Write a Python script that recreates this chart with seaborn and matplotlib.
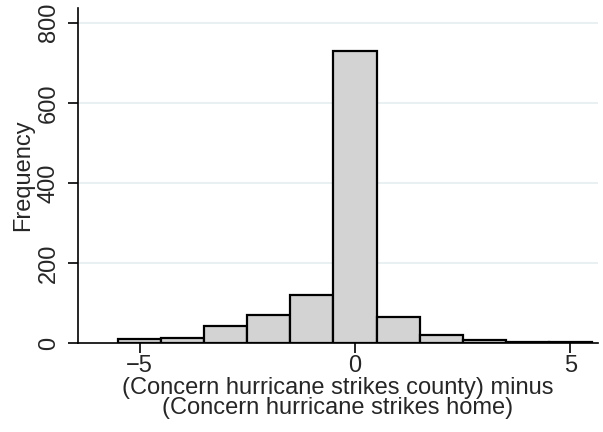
import numpy as np
import pandas as pd
import matplotlib
matplotlib.use('Agg')
import matplotlib.pyplot as plt
import seaborn as sns

# difference score (county minus home) and frequency per bin
diff_values = [-5, -4, -3, -2, -1, 0, 1, 2, 3, 4, 5]
frequency = [9, 13, 42, 70, 120, 730, 64, 19, 8, 3, 2]
x_ticks = [-5, 0, 5]
y_ticks = [0, 200, 400, 600, 800]

df = pd.DataFrame({'diff': diff_values, 'freq': frequency})

sns.set_style('white')
plt.rcParams['font.family'] = ['Liberation Sans', 'DejaVu Sans']

fig = plt.figure(figsize=(6.03, 4.32), dpi=100)
ax = fig.add_axes([78 / 603, 89 / 432, (598 - 78) / 603, (343 - 8) / 432])

for yv in y_ticks[1:]:
    ax.axhline(yv, color='#e6eff1', lw=1.3, zorder=0)

sns.histplot(data=df, x='diff', weights='freq', discrete=True,
             color='#d3d3d3', edgecolor='black', linewidth=1.6, alpha=1, ax=ax, zorder=2)

ax.set_xlim(-6.43, 5.64)
ax.set_ylim(0, 837)
ax.set_xticks(x_ticks)
ax.set_xticklabels(['\u22125', '0', '5'])
ax.set_yticks(y_ticks)
ax.set_yticklabels([str(v) for v in y_ticks], rotation=90, va='center')
ax.tick_params(axis='both', direction='out', length=7, width=1.2, color='black',
               labelsize=17, left=True, bottom=True)
ax.tick_params(axis='x', pad=1.5)
ax.tick_params(axis='y', pad=6)

for side in ['top', 'right']:
    ax.spines[side].set_visible(False)
for side in ['left', 'bottom']:
    ax.spines[side].set_color('black')
    ax.spines[side].set_linewidth(1.2)

ax.set_xlabel('(Concern hurricane strikes county) minus\n(Concern hurricane strikes home)',
              fontsize=17, linespacing=0.9, labelpad=0)
ax.set_ylabel('Frequency', fontsize=17, labelpad=3)

fig.savefig('out.png', dpi=100)
